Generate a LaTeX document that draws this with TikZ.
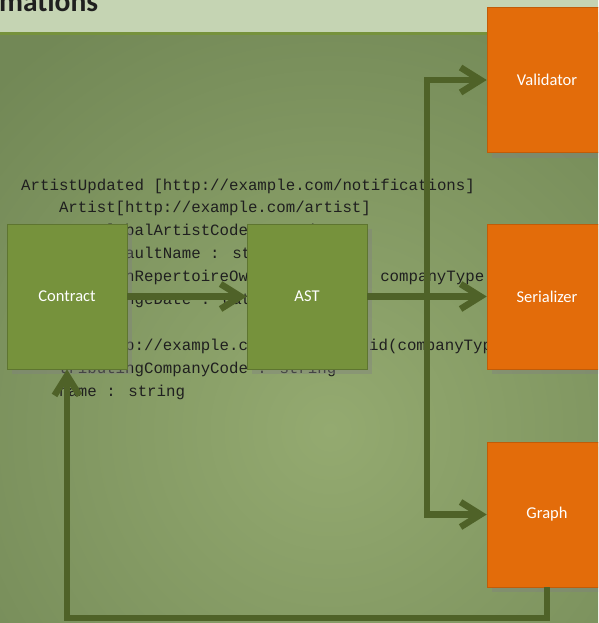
\documentclass[tikz,border=0pt]{standalone}
\usepackage{fontspec}
\setmainfont{Carlito}
\newfontfamily\monof{Liberation Mono}
\usetikzlibrary{arrows.meta,shadows}
\definecolor{bgdark}{RGB}{114,136,86}
\definecolor{bglight}{RGB}{148,170,112}
\definecolor{titlebg}{RGB}{197,212,179}
\definecolor{rulegreen}{RGB}{118,146,60}
\definecolor{boxgreen}{RGB}{118,146,60}
\definecolor{boxorange}{RGB}{227,108,10}
\definecolor{conn}{RGB}{79,98,40}
\begin{document}
\begin{tikzpicture}[x=1pt,y=-1pt,
  code/.style={font=\monof\fontsize{15.75}{18}\selectfont, text=black!88, anchor=base west, inner sep=0pt},
  gbox/.style={draw=boxgreen!80!black, line width=0.6pt, fill=boxgreen, minimum width=120pt, minimum height=145pt, text=white, font=\fontsize{16.5}{20}\selectfont, drop shadow={shadow xshift=5pt, shadow yshift=-5pt, opacity=0.4}},
  obox/.style={gbox, fill=boxorange, draw=boxorange!85!black},
  link/.style={draw=conn, line width=6.5pt, -{Straight Barb[length=20pt,width=25pt]}},
]
\useasboundingbox (0,0) rectangle (598,623);
\clip (0,0) rectangle (598,623);
% background
\fill[bgdark] (0,0) rectangle (598,623);
\shade[inner color=bglight, outer color=bgdark] (330,430) circle (480);
\fill[titlebg] (0,0) rectangle (598,32);
\fill[rulegreen] (0,32) rectangle (598,35);
\node[anchor=base west, inner sep=0pt, font=\bfseries\fontsize{29.5}{30}\selectfont, text=black!88] (title) at (-1,11.5) {mations};
% code text
\node[code] (t1) at (21,190) {ArtistUpdated [http://example.com/notifications]};
\node[code] (t2) at (58.8,212.9) {Artist[http://example.com/artist]};
\node[code] (t3) at (96.6,235.8) {globalArtistCode : string};
\node[code] (t4) at (96.6,258.7) {defaultName : string};
\node[code] (t5a) at (96.6,281.6) {mainRepertoireOwner};
\node[code] (t5b) at (358,281.6) {: companyType};
\node[code] (t6) at (96.6,304.5) {changeDate : date};
\node[code] (t8a) at (96.6,350.3) {http://example.com/};
\node[code] (t8b) at (369,350.3) {id(companyType)};
\node[code] (t9) at (58.8,373.2) {tributingCompanyCode : string};
\node[code] (t10) at (58.8,396.1) {name : string};
% boxes
\node[gbox] (contract) at (67,296.5) {Contract};
\node[gbox] (ast) at (307,296.5) {AST};
\node[obox] (val) at (547,80) {Validator};
\node[obox] (ser) at (547,296.5) {Serializer};
\node[obox] (graph) at (547,514.5) {Graph};
% connectors
\coordinate (split) at (427,296.5);
\coordinate (bot) at (0,618);
\draw[link] (contract.east) -- (ast.west);
\draw[link] (ast.east) -- (ser.west);
\draw[link] (split) |- (val.west);
\draw[link] (split) |- (graph.west);
\draw[link] (graph.south) -- (graph.south |- bot) -| (contract.south);
\end{tikzpicture}
\end{document}
